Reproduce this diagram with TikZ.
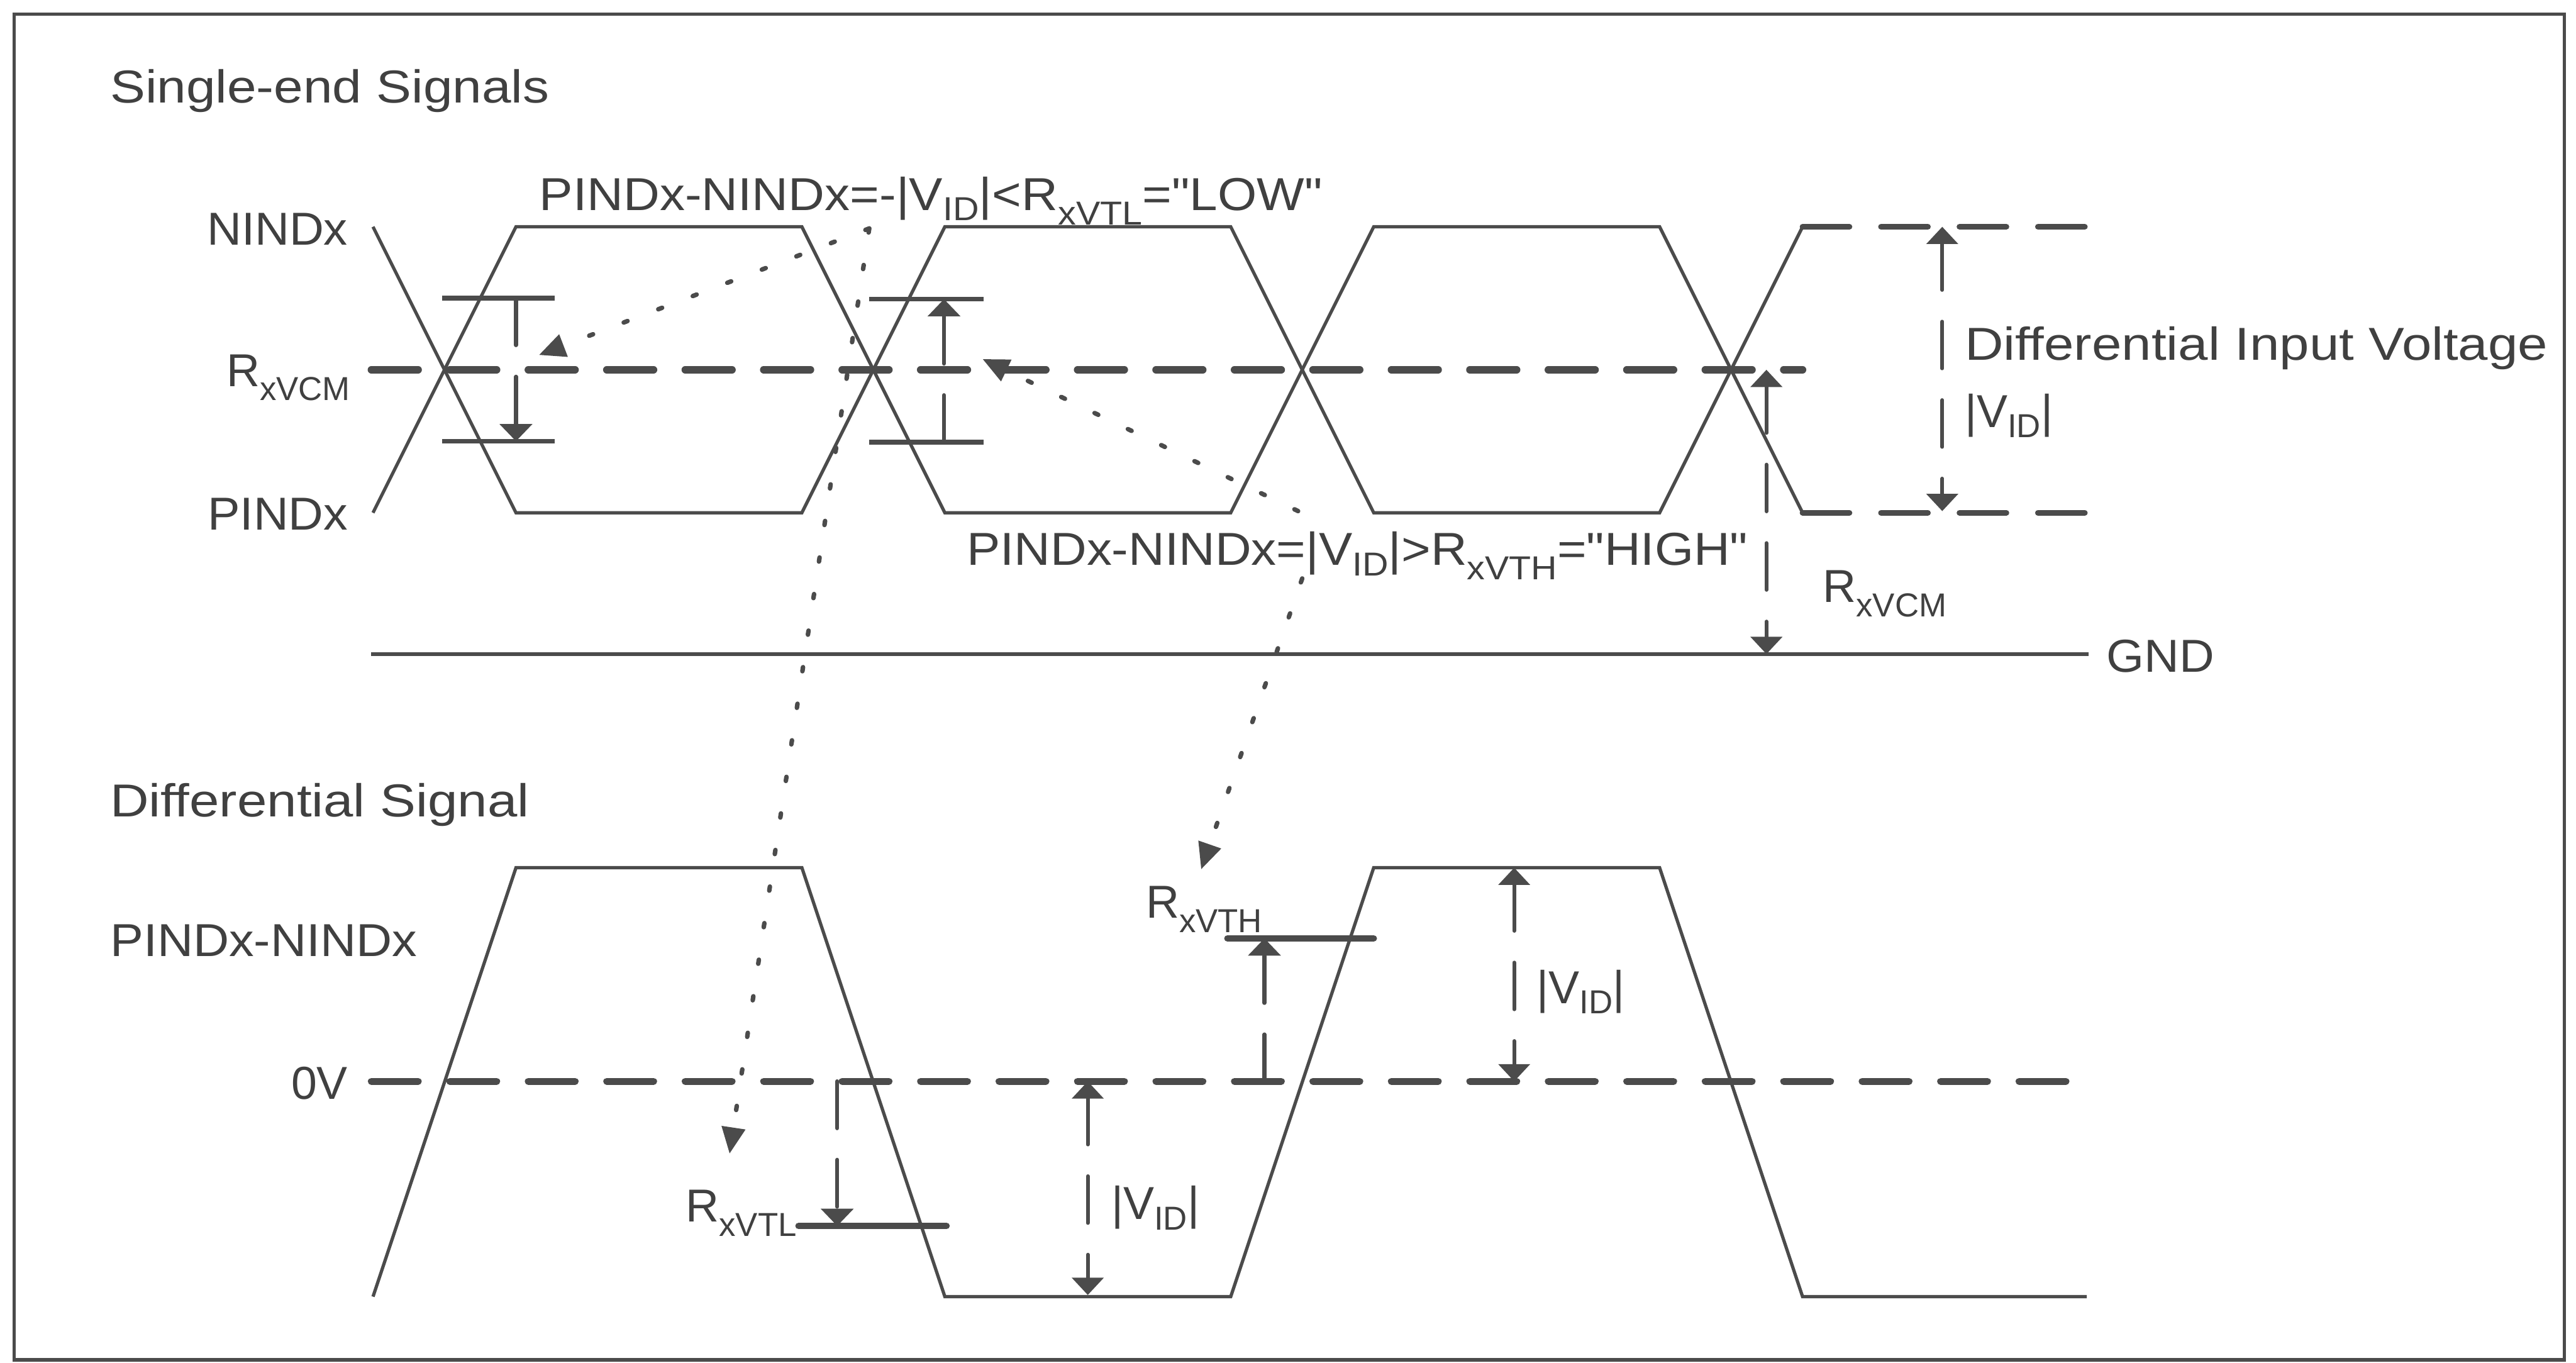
\documentclass[tikz,border=0pt]{standalone}
\usepackage{fontspec}
\setmainfont{Liberation Sans}[Ligatures=TeXOff]
\usepackage{graphicx}
\usetikzlibrary{arrows.meta}
\definecolor{ink}{HTML}{4B4B4B}
\definecolor{txt}{HTML}{404040}
\newcommand{\lowsub}[1]{\raisebox{-5pt}{\fontsize{11.5pt}{11.5pt}\selectfont #1}}
\newcommand{\idsub}[1]{\raisebox{-3.6pt}{\fontsize{11.5pt}{11.5pt}\selectfont #1}}
\newcommand{\hs}[2]{\scalebox{#1}[1]{#2}}
\begin{document}
\begin{tikzpicture}[x=0.2mm,y=-0.2mm,
  every node/.style={inner sep=0pt, text=txt, font=\fontsize{16pt}{19pt}\selectfont},
  wave/.style={draw=ink, line width=0.4mm, line join=miter},
  dashpat/.style={dash pattern=on 5.7mm off 3.85mm, line cap=round},
  midline/.style={draw=ink, line width=0.9mm, dashpat},
  sideline/.style={draw=ink, line width=0.7mm, dashpat},
  bar/.style={draw=ink, line width=0.6mm},
  thickbar/.style={draw=ink, line width=0.8mm, line cap=round},
  varrow/.style={draw=ink, line width=0.5mm, dashpat, -{Triangle[length=2.1mm,width=3.9mm]}},
  varrowtwo/.style={draw=ink, line width=0.45mm, dashpat, {Triangle[length=2.1mm,width=3.8mm]}-{Triangle[length=2.1mm,width=3.8mm]}},
  dotarrow/.style={draw=ink, line width=0.55mm, line cap=round, dash pattern=on 0.5mm off 4mm, -{Triangle[length=3.2mm,width=2.8mm]}},
]
\useasboundingbox (0,0) rectangle (1567.7,829.2);
\fill[white] (0,0) rectangle (1567.7,829.2);
\draw[ink, line width=0.45mm] (8.6,8.6) rectangle (1560.6,827.5);

% ---------- single-end signals ----------
\draw[wave] (227,138) -- (314,312) -- (488,312) -- (575,138) -- (749,138) -- (836,312) -- (1010,312) -- (1097,138);
\draw[wave] (227,312) -- (314,138) -- (488,138) -- (575,312) -- (749,312) -- (836,138) -- (1010,138) -- (1097,312);
\draw[sideline] (1097,138) -- (1271,138);
\draw[sideline] (1097,312) -- (1271,312);
\draw[midline] (226,225) -- (1097,225);
\draw[wave, line width=0.45mm] (226,398) -- (1271,398);

% bars and arrows at crossings
\draw[bar] (269,181.5) -- (337.5,181.5);
\draw[bar] (269,268.5) -- (337.5,268.5);
\coordinate (aTop) at (314,181.5);
\coordinate (aBot) at (314,268.5);
\draw[varrow] (aTop) -- (aBot);
\draw[bar] (529,182) -- (598.5,182);
\draw[bar] (529,269) -- (598.5,269);
\coordinate (bTop) at (574.5,182);
\coordinate (bBot) at (574.5,269);
\draw[varrow] (bBot) -- (bTop);

% right side arrows
\coordinate (dTop) at (1182,138);
\coordinate (dBot) at (1182,311);
\draw[varrowtwo] (dTop) -- (dBot);
\coordinate (cTop) at (1075,225);
\coordinate (cBot) at (1075,398);
\draw[varrowtwo] (cTop) -- (cBot);

% ---------- differential signal ----------
\draw[wave] (227,789) -- (314,528) -- (488,528) -- (575,789) -- (749,789) -- (836,528) -- (1010,528) -- (1097,789) -- (1270,789);
\draw[midline, line width=0.85mm] (226,658) -- (1262,658);

\draw[thickbar] (486,746) -- (576,746);
\coordinate (tlTop) at (509.5,658);
\coordinate (tlBot) at (509.5,746);
\draw[varrow] (tlTop) -- (tlBot);
\draw[thickbar] (747,571) -- (836,571);
\coordinate (thBot) at (769.5,658);
\coordinate (thTop) at (769.5,571);
\draw[varrow] (thBot) -- (thTop);
\coordinate (v1Top) at (662,658);
\coordinate (v1Bot) at (662,788);
\draw[varrowtwo] (v1Top) -- (v1Bot);
\coordinate (v2Top) at (921.5,528);
\coordinate (v2Bot) at (921.5,658);
\draw[varrowtwo] (v2Top) -- (v2Bot);

% ---------- texts ----------
\node[anchor=base west] (title1) at (66.7,62.5) {\hs{1.14}{Single-end Signals}};
\node[anchor=base east] (nlab) at (212,149) {\hs{1.035}{NINDx}};
\node[anchor=base east] (vcmlab) at (213.5,235) {R\lowsub{xVCM}};
\node[anchor=base east] (plab) at (212,322.5) {\hs{1.05}{PINDx}};
\node[anchor=base west] (lowtxt) at (328,128) {\hs{1.09}{PINDx-NINDx=-|V\idsub{ID}|<R\lowsub{xVTL}="LOW"}};
\node[anchor=base west] (hightxt) at (588,344) {\hs{1.087}{PINDx-NINDx=|V\idsub{ID}|>R\lowsub{xVTH}="HIGH"}};
\node[anchor=base west] (divlab) at (1195.4,219) {\hs{1.16}{Differential Input Voltage}};
\node[anchor=base west] (divlabb) at (1195.4,260) {|V\idsub{ID}|};
\node[anchor=base west] (vcmlabb) at (1109,366.5) {R\lowsub{xVCM}};
\node[anchor=base west] (gndlab) at (1281.6,409) {\hs{1.05}{GND}};
\node[anchor=base west] (title2) at (66.7,497) {\hs{1.16}{Differential Signal}};
\node[anchor=base west] (pnlab) at (66.7,582) {\hs{1.078}{PINDx-NINDx}};
\node[anchor=base east] (zlab) at (212,669) {0V};
\node[anchor=base west] (vtllab) at (417,743.5) {R\lowsub{xVTL}};
\node[anchor=base west] (vidlaba) at (676,742) {|V\idsub{ID}|};
\node[anchor=base west] (vthlab) at (697,558.5) {R\lowsub{xVTH}};
\node[anchor=base west] (vidlabb) at (935,610.5) {|V\idsub{ID}|};

% ---------- dotted pointers ----------
\coordinate (lowsrc) at (529,139);
\coordinate (lowtipA) at (328,216);
\coordinate (lowtipB) at (444,702);
\draw[dotarrow] (lowsrc) -- (lowtipA);
\draw[dotarrow] (lowsrc) -- (lowtipB);
\coordinate (hisrcA) at (790,311);
\coordinate (hitipA) at (598,218.5);
\draw[dotarrow] (hisrcA) -- (hitipA);
\coordinate (hisrcB) at (792.5,352);
\coordinate (hitipB) at (731,529);
\draw[dotarrow] (hisrcB) -- (hitipB);
\end{tikzpicture}
\end{document}
